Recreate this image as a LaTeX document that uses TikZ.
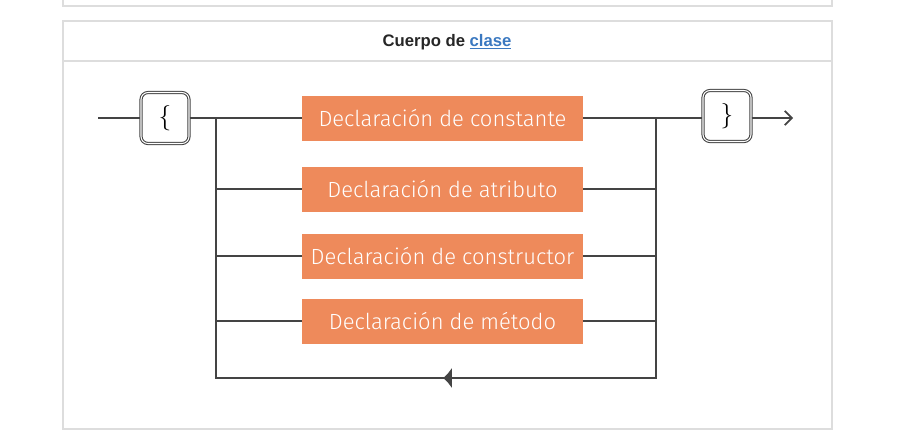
\documentclass[tikz,border=0pt]{standalone}
\usepackage{fontspec}
\setsansfont{Liberation Sans}
\newfontfamily\declfont{Fira Sans Light}
\usepackage{xcolor}
\usepackage{tikz}
\usetikzlibrary{positioning}
\usetikzlibrary{arrows.meta}
\definecolor{declorange}{HTML}{EE8A5B}
\definecolor{linegray}{HTML}{444444}
\definecolor{panelgray}{HTML}{DDDDDD}
\definecolor{linkblue}{HTML}{3A78C0}

\begin{document}
\begin{tikzpicture}[
      x=0.02cm, y=-0.02cm,
      type-panel/.style={draw=panelgray, line width=0.6pt},
      type-decl/.style={rectangle, fill=declorange, text=white, minimum width=5.62cm, minimum height=0.9cm, inner sep=0pt, font=\declfont\fontsize{12.5}{13}\selectfont},
      type-brace/.style={rectangle, rounded corners=4pt, draw=linegray, double=white, double distance=0.6pt, line width=0.6pt, minimum width=0.96cm, minimum height=1.02cm, inner sep=0pt, font=\fontsize{14}{16}\selectfont},
      type-line/.style={draw=linegray, line width=1pt}
    ]
      \useasboundingbox (0,0) rectangle (919,440);
      % panels
      \draw[type-panel] (63,0) -- (63,6) -- (832,6) -- (832,0);
      \draw[type-panel] (63,21) rectangle (832,429);
      \draw[type-panel] (63,61) -- (832,61);
      \node[font=\sffamily\bfseries\fontsize{9.5}{11}\selectfont, text=black!85] (title) at (447,42) {Cuerpo de \textcolor{linkblue}{\underline{clase}}};
      % nodes
      \node[type-brace] (lbrace) at (165,118) {$\{$};
      \node[type-brace] (rbrace) at (727,116) {$\}$};
      \node[type-decl] (decl1) at (442.5,118) {Declaración de constante};
      \node[type-decl] (decl2) at (442.5,189) {Declaración de atributo};
      \node[type-decl] (decl3) at (442.5,256) {Declaración de constructor};
      \node[type-decl] (decl4) at (442.5,321) {Declaración de método};
      \coordinate (start) at (98,118);
      \coordinate (finish) at (793,118);
      \coordinate (lt) at (216,118);
      \coordinate (lb) at (216,378);
      \coordinate (rt) at (656,118);
      \coordinate (rb) at (656,378);
      \coordinate (back) at (443,378);
      % connectors
      \draw[type-line] (start) -- (lbrace);
      \draw[type-line] (lbrace.east |- lt) -- (decl1);
      \draw[type-line] (decl1) -- (rbrace.west |- rt);
      \draw[type-line, -{Straight Barb[length=4pt, width=8pt]}] (rbrace.east |- finish) -- (finish);
      \draw[type-line] (lt) -- (lb) -- (rb) -- (rt);
      \draw[type-line, -{Latex[length=5pt, width=12pt]}] (rb) -- (back);
      \foreach \d in {decl2,decl3,decl4} {
        \draw[type-line] (lt |- \d) -- (\d);
        \draw[type-line] (\d) -- (rt |- \d);
      }
    \end{tikzpicture}
\end{document}
